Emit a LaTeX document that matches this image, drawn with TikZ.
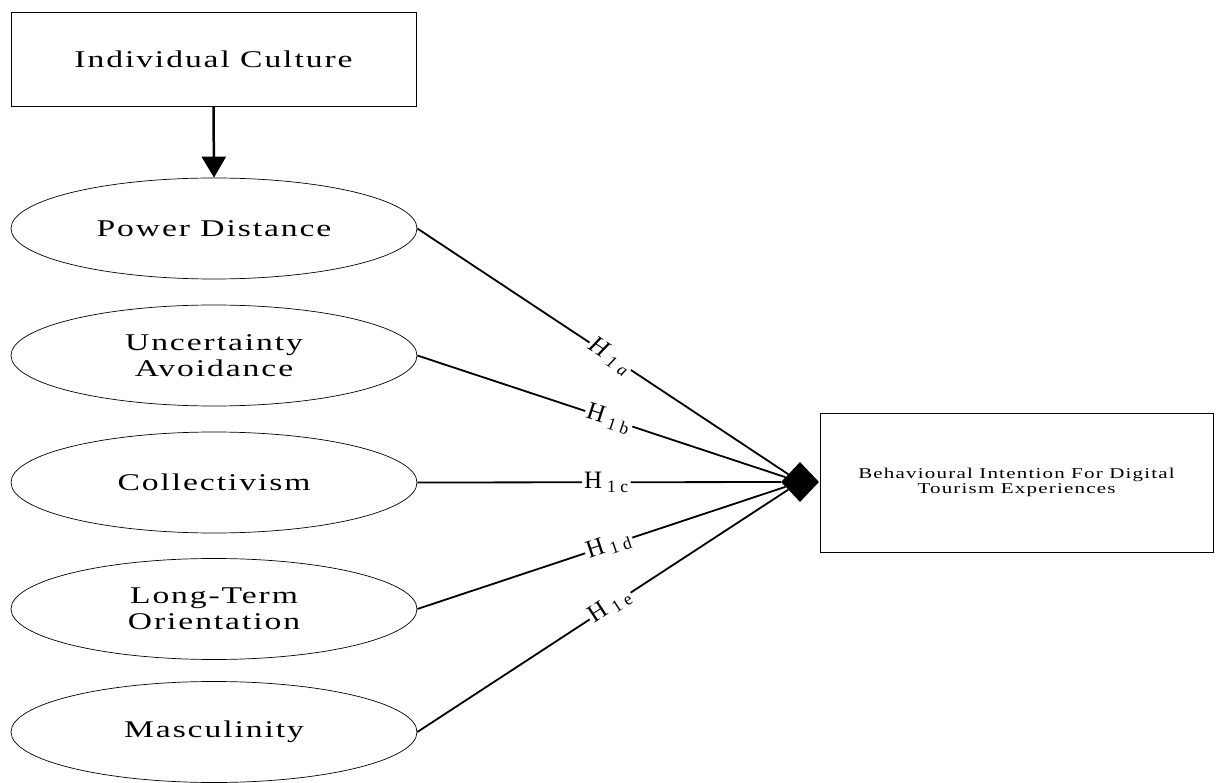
\documentclass[tikz,border=0pt]{standalone}
\usepackage{fontspec}
\setmainfont{Liberation Serif}
\newfontfamily\widefont{Liberation Serif}[FakeStretch=1.4,LetterSpace=8]
\newfontfamily\subfont{Liberation Serif}[LetterSpace=25]
\newcommand\hyplabel[2]{#1\hspace{5pt}\textsubscript{\subfont #2}}
\usetikzlibrary{arrows.meta}
\usetikzlibrary{shapes.geometric}

\begin{document}
\begin{tikzpicture}[x=1pt,y=-1pt,
    box/.style={draw,line width=0.9pt,inner sep=0pt,align=center},
    construct/.style={ellipse,draw,line width=0.7pt,minimum width=406pt,
      minimum height=101pt,inner sep=0pt,align=center,
      font={\widefont\fontsize{24}{26}\selectfont}},
    link/.style={line width=1.8pt},
    hyp/.style={fill=white,inner sep=2pt,sloped,pos=0.52,
      font={\fontsize{25}{27}\selectfont}}]
  \useasboundingbox (0,0) rectangle (1216,783);

  \node[box,minimum width=405pt,minimum height=94pt,
    font={\widefont\fontsize{24}{26}\selectfont}] (ic) at (213.5,59) {Individual Culture};

  \node[construct] (pd) at (214,228.5) {Power Distance};
  \node[construct] (ua) at (214,355.5) {Uncertainty\\Avoidance};
  \node[construct] (co) at (214,482.5) {Collectivism};
  \node[construct] (lt) at (214,609) {Long-Term\\Orientation};
  \node[construct] (ma) at (214,732) {Masculinity};

  \node[box,minimum width=393pt,minimum height=139pt,
    font={\widefont\fontsize{15}{15}\selectfont}] (bi) at (1016.5,482.5)
    {Behavioural Intention For Digital\\Tourism Experiences};
  \node[diamond,fill=black,inner sep=0pt,minimum width=38pt,
    minimum height=40pt] (dia) at (800,482) {};

  \draw[line width=2.5pt,-{Triangle[length=21pt,width=24pt]}] (ic.south) -- (pd.north);

  \path[link] (pd.east) edge node[hyp] {\itshape\hyplabel{H}{1a}} (dia);
  \path[link] (ua.east) edge node[hyp] {\hyplabel{H}{1b}} (dia);
  \path[link] (co.east) edge node[hyp] {\hyplabel{H}{1c}} (dia);
  \path[link] (lt.east) edge node[hyp] {\hyplabel{H}{1d}} (dia);
  \path[link] (ma.east) edge node[hyp] {\hyplabel{H}{1e}} (dia);
\end{tikzpicture}
\end{document}
